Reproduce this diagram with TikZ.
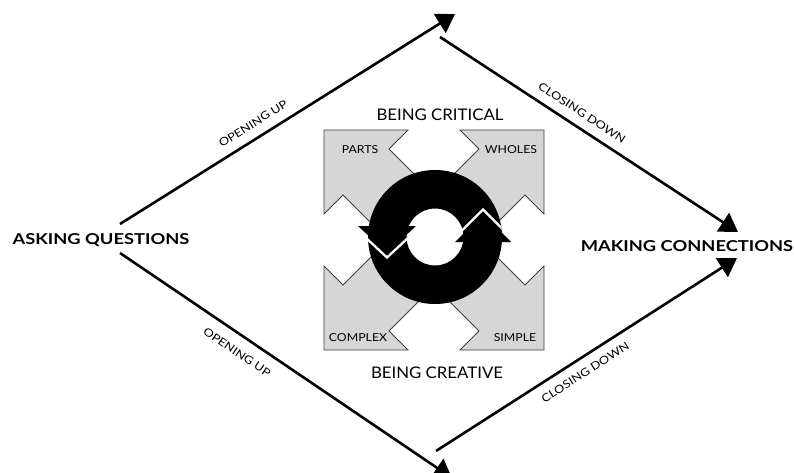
\documentclass[tikz,border=0pt]{standalone}
\usepackage{fontspec}
\setmainfont{Lato}
\newfontfamily\bigfont[FakeStretch=1.22]{Lato}
\newfontfamily\headfont[FakeStretch=1.05]{Lato}
\newfontfamily\smallfont[FakeStretch=1.12]{Lato}
\newfontfamily\flowfont[FakeStretch=1.17]{Lato}
\usetikzlibrary{arrows.meta}
\begin{document}
\begin{tikzpicture}[x=1pt,y=-1pt,
  conn/.style={line width=2.6pt,-{Triangle[length=18pt,width=22pt]}},
  bigl/.style={font=\bigfont\fontsize{15}{17}\selectfont\bfseries, inner sep=0pt},
  flow/.style={font=\flowfont\fontsize{11}{13}\selectfont, inner sep=0pt, sloped},
  head/.style={font=\headfont\fontsize{16}{18}\selectfont, inner sep=0pt},
  quadlbl/.style={font=\smallfont\fontsize{11}{13}\selectfont, inner sep=0pt},
  quad/.style={fill=black!16, draw=black!75, line width=0.8pt, line join=miter},
  gap/.style={white, line width=2.3pt}
]
\useasboundingbox (0,0) rectangle (794,473);
\fill[white] (0,0) rectangle (794,473);

% four grey arrows of the central square
\foreach \sx/\sy in {1/1,-1/1,1/-1,-1/-1}{
  \begin{scope}[shift={(434,240)}, xscale=\sx, yscale=\sy]
    \draw[quad] (-110,-110) -- (-26,-110) -- (-45,-91) -- (-8,-54) -- (-54,-8) -- (-91,-45) -- (-110,-26) -- cycle;
  \end{scope}
}

% black circular arrow
\coordinate (R) at (435,237);
\fill[black, even odd rule] (R) circle[radius=67pt] (R) circle[radius=28.5pt];
\begin{scope}
  \clip (R) circle[radius=67pt];
  \draw[gap] (358,230.5) -- (387,257.5) -- (416,230.5);
  \draw[gap] (455,237.5) -- (483,209.5) -- (511,237.5);
\end{scope}
\fill[black] (358,226) -- (416,226) -- (387,253) -- cycle;
\fill[black] (455,242) -- (511,242) -- (483,214) -- cycle;

% texts
\node[bigl] (aq) at (101,240) {ASKING QUESTIONS};
\node[bigl] (mc) at (687,246) {MAKING CONNECTIONS};
\node[head] (crit) at (440,115) {BEING CRITICAL};
\node[head] (crea) at (437,373) {BEING CREATIVE};
\node[quadlbl] (parts) at (360,150) {PARTS};
\node[quadlbl] (wholes) at (511,150) {WHOLES};
\node[quadlbl] (complex) at (358,338) {COMPLEX};
\node[quadlbl] (simple) at (515,338) {SIMPLE};

% diamond connectors
\coordinate (aqU) at (120,224);
\coordinate (topT) at (455,14);
\coordinate (topS) at (440,37);
\coordinate (mcU) at (738,232);
\coordinate (aqL) at (120,253);
\coordinate (botT) at (452,478);
\coordinate (botS) at (436,451);
\coordinate (mcL) at (737,258);

\draw[conn] (aqU) -- node[flow, pos=0.42, above=9pt] {OPENING UP} (topT);
\draw[conn] (topS) -- node[flow, pos=0.45, above=9pt] {CLOSING DOWN} (mcU);
\draw[conn] (aqL) -- node[flow, pos=0.38, below=11pt] {OPENING UP} (botT);
\draw[conn] (botS) -- node[flow, pos=0.47, below=9pt] {CLOSING DOWN} (mcL);
\end{tikzpicture}
\end{document}
